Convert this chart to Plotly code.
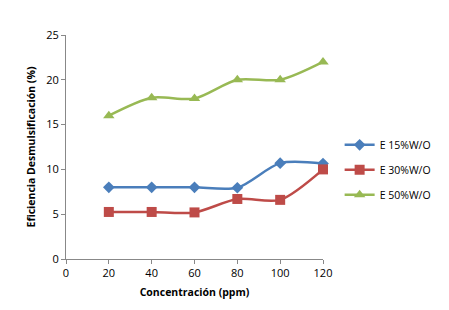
import plotly.graph_objects as go

conc = [20, 40, 60, 80, 100, 120]
e15 = [8.0, 8.0, 8.0, 7.95, 10.7, 10.65]
e30 = [5.25, 5.25, 5.2, 6.7, 6.6, 10.0]
e50 = [16.0, 18.0, 17.9, 20.0, 20.0, 22.0]
names = ["E 15%W/O", "E 30%W/O", "E 50%W/O"]
colors = ["#4A7EBB", "#BE4B48", "#98B954"]
symbols = ["diamond", "square", "triangle-up"]
sizes = [9, 10, 10]

fig = go.Figure()
for ys, n, c, s, sz in zip([e15, e30, e50], names, colors, symbols, sizes):
    fig.add_trace(go.Scatter(
        x=conc, y=ys, name=n, mode="lines+markers", legendgroup=n,
        line=dict(color=c, width=2.5, shape="spline", smoothing=0.8),
        marker=dict(symbol=s, size=sz, color=c),
        cliponaxis=False,
    ))

axis_common = dict(
    showline=True, linecolor="#888888", linewidth=1,
    ticks="outside", ticklen=4, tickcolor="#888888",
    showgrid=False, zeroline=False,
    tickfont=dict(size=11, color="#000000"),
)
fig.update_layout(
    width=441, height=302,
    margin=dict(l=58, r=126, t=27, b=51, autoexpand=False),
    paper_bgcolor="white", plot_bgcolor="white",
    font=dict(family="Open Sans, Liberation Sans, sans-serif", color="#000000"),
    xaxis=dict(range=[0, 120], tickvals=[0, 20, 40, 60, 80, 100, 120],
               title=dict(text="<b>Concentración (ppm)</b>", font=dict(size=10.5), standoff=9),
               **axis_common),
    yaxis=dict(range=[0, 25], tickvals=[0, 5, 10, 15, 20, 25],
               title=dict(text="<b>Eficiencia Desmulsificación (%)</b>", font=dict(size=10.5), standoff=8),
               **axis_common),
    legend=dict(xref="container", yref="container", x=0.752, y=0.464,
                xanchor="left", yanchor="middle",
                font=dict(size=10.5), itemwidth=30, tracegroupgap=6,
                bgcolor="rgba(0,0,0,0)"),
)
fig.write_html("out.html")
